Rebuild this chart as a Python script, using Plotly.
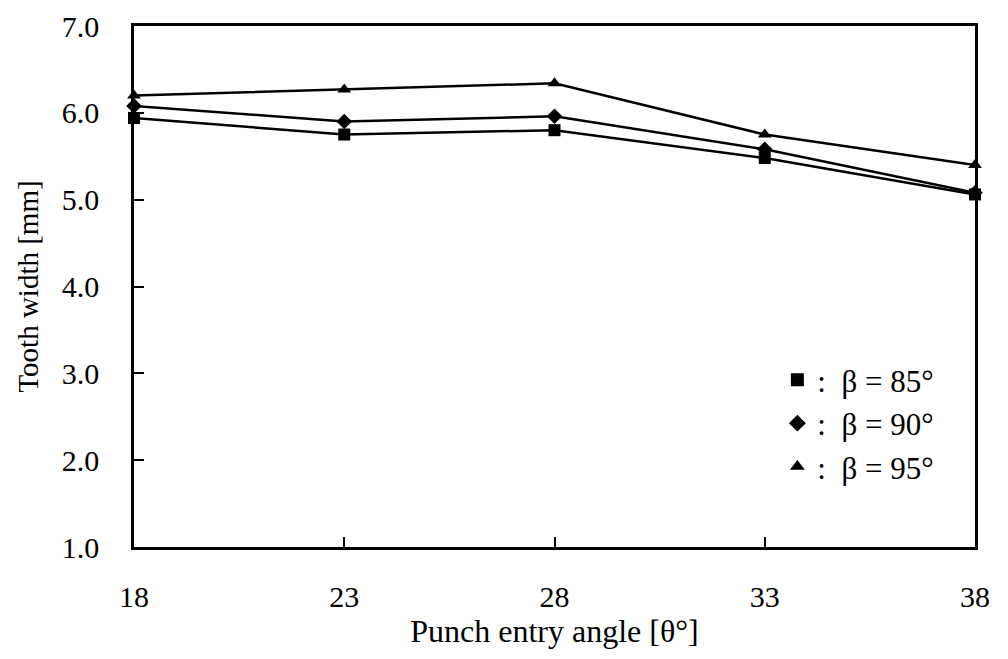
import plotly.graph_objects as go

angles = [18, 23, 28, 33, 38]
beta85 = [5.94, 5.75, 5.80, 5.48, 5.06]
beta90 = [6.08, 5.90, 5.96, 5.58, 5.08]
beta95 = [6.20, 6.27, 6.34, 5.75, 5.40]
series_names = ["β = 85°", "β = 90°", "β = 95°"]
symbols = ["square", "diamond", "triangle-up"]
x_ticks = [18, 23, 28, 33, 38]
y_ticks = [1, 2, 3, 4, 5, 6, 7]

fig = go.Figure()
for vals, name, sym in zip([beta85, beta90, beta95], series_names, symbols):
    fig.add_trace(go.Scatter(x=angles, y=vals, mode="lines+markers",
                             line=dict(color="black", width=2.5),
                             marker=dict(symbol=sym, size=12, color="black"),
                             showlegend=False, cliponaxis=False))
for name, sym in zip(series_names, symbols):
    fig.add_trace(go.Scatter(x=[None], y=[None], mode="markers", name=":  " + name,
                             legendgroup=name,
                             marker=dict(symbol=sym, size=13, color="black")))

font = "Liberation Serif, Times New Roman, serif"
fig.update_layout(
    width=1008, height=659,
    margin=dict(l=126, r=41, t=18, b=120),
    paper_bgcolor="white", plot_bgcolor="white",
    font=dict(family=font, size=27, color="black"),
    legend=dict(x=0.765, y=0.372, xanchor="left", yanchor="top",
                bgcolor="rgba(0,0,0,0)", font=dict(size=31, family=font, color="black"),
                itemwidth=30, tracegroupgap=0),
)
fig.update_xaxes(range=[18, 38], tickvals=x_ticks, ticktext=[str(v) for v in x_ticks],
                 ticks="inside", ticklen=10, tickwidth=1.5, tickcolor="black",
                 showline=True, linecolor="black", linewidth=2.5, mirror=True,
                 showgrid=False, zeroline=False, ticklabelstandoff=21,
                 automargin="top+bottom",
                 title=dict(text="Punch entry angle [θ°]", standoff=0,
                            font=dict(size=32, color="black")),
                 tickfont=dict(size=30, color="black"))
fig.update_yaxes(range=[1, 7], tickvals=y_ticks, ticktext=[f"{v:.1f}" for v in y_ticks],
                 ticks="inside", ticklen=10, tickwidth=1.5, tickcolor="black",
                 showline=True, linecolor="black", linewidth=2.5, mirror=True,
                 showgrid=False, zeroline=False, ticklabelstandoff=26,
                 automargin="left+right",
                 title=dict(text="Tooth width [mm]", standoff=15,
                            font=dict(size=29, color="black")),
                 tickfont=dict(size=30, color="black"))
fig.write_html("out.html")
